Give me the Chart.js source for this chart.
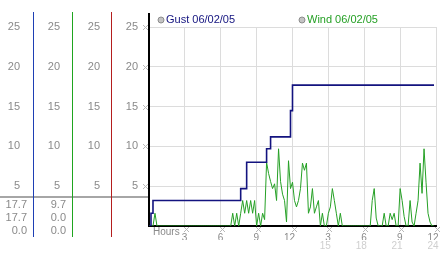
<!DOCTYPE html>
<html>
<head>
<meta charset="utf-8">
<script src="https://cdn.jsdelivr.net/npm/chart.js@4"></script>
<style>
  html, body { margin: 0; padding: 0; background: #fff; }
  #wrap { width: 442px; height: 253px; }
</style>
</head>
<body>
<div id="wrap"><canvas id="chart" width="442" height="253"></canvas></div>
<script>
// 10분 간격 샘플 (00:00 ~ 23:50)
const stepHours = 1 / 6;

// Gust 06/02/05
const gust = [
  0, 1.6, 3.2, 3.2, 3.2, 3.2, 3.2, 3.2, 3.2, 3.2, 3.2, 3.2,
  3.2, 3.2, 3.2, 3.2, 3.2, 3.2, 3.2, 3.2, 3.2, 3.2, 3.2, 3.2,
  3.2, 3.2, 3.2, 3.2, 3.2, 3.2, 3.2, 3.2, 3.2, 3.2, 3.2, 3.2,
  3.2, 3.2, 3.2, 3.2, 3.2, 3.2, 3.2, 3.2, 3.2, 3.2, 4.7, 4.7,
  4.7, 8.0, 8.0, 8.0, 8.0, 8.0, 8.0, 8.0, 8.0, 8.0, 8.0, 9.7,
  9.7, 11.2, 11.2, 11.2, 11.2, 11.2, 11.2, 11.2, 11.2, 11.2, 11.2, 14.5,
  17.7, 17.7, 17.7, 17.7, 17.7, 17.7, 17.7, 17.7, 17.7, 17.7, 17.7, 17.7,
  17.7, 17.7, 17.7, 17.7, 17.7, 17.7, 17.7, 17.7, 17.7, 17.7, 17.7, 17.7,
  17.7, 17.7, 17.7, 17.7, 17.7, 17.7, 17.7, 17.7, 17.7, 17.7, 17.7, 17.7,
  17.7, 17.7, 17.7, 17.7, 17.7, 17.7, 17.7, 17.7, 17.7, 17.7, 17.7, 17.7,
  17.7, 17.7, 17.7, 17.7, 17.7, 17.7, 17.7, 17.7, 17.7, 17.7, 17.7, 17.7,
  17.7, 17.7, 17.7, 17.7, 17.7, 17.7, 17.7, 17.7, 17.7, 17.7, 17.7, 17.7
];

// Wind 06/02/05
const wind = [
  0, 0, 0, 1.6, 0, 0, 0, 0, 0, 0, 0, 0,
  0, 0, 0, 0, 0, 0, 0, 0, 0, 0, 0, 0,
  0, 0, 0, 0, 0, 0, 0, 0, 0, 0, 0, 0,
  0, 0, 0, 0, 0, 0, 1.6, 0, 1.6, 0, 1.6, 3.2,
  1.6, 3.2, 1.6, 3.2, 1.6, 3.2, 0, 1.6, 0, 1.6, 0.8, 8.0,
  6.6, 5.6, 4.7, 5.3, 3.2, 9.7, 5.6, 4.0, 3.2, 0.5, 8.2, 4.7,
  5.5, 3.2, 2.4, 3.2, 4.7, 7.9, 7.0, 7.9, 1.6, 2.4, 4.7, 1.6,
  2.4, 3.2, 0, 1.6, 0, 0, 1.6, 2.4, 4.7, 3.2, 1.6, 0,
  1.6, 0, 0, 0, 0, 0, 0, 0, 0, 0, 0, 0,
  0, 0, 0, 0, 3.2, 4.7, 1.0, 0, 0, 0, 1.6, 0,
  0, 1.6, 0.8, 1.6, 0, 0, 4.7, 3.2, 1.2, 0, 0, 3.2,
  0.5, 0, 1.6, 3.2, 7.9, 4.1, 9.7, 5.5, 1.6, 0.5, 0, 0
];

const seriesNames = ['Gust 06/02/05', 'Wind 06/02/05'];
const valueTicks = [5, 10, 15, 20, 25];
const hourTicks = [0, 3, 6, 9, 12, 15, 18, 21, 24];
const topLabels = ['', '3', '6', '9', '12', '3', '6', '9', '12'];
const lowLabels = ['', '', '', '', '', '15', '18', '21', '24'];

const FONT = 'Liberation Sans, Arial, sans-serif';
const GUST_COLOR = '#13137f';
const WIND_COLOR = '#25a025';

function toPoints(values) {
  return values.map((v, i) => ({ x: i * stepHours, y: v }));
}

// 왼쪽에 나란히 놓이는 눈금 기둥
function sideAxis(weight, width, pad, border, grid) {
  return {
    type: 'linear',
    position: 'left',
    min: 0,
    max: 25,
    weight: weight,
    afterBuildTicks: s => { s.ticks = valueTicks.map(v => ({ value: v })); },
    afterFit: s => { s.width = width; },
    grid: grid ? { color: '#dcdcdc', drawTicks: false } : { display: false, drawTicks: false },
    border: border,
    ticks: { color: '#8a8a8a', padding: pad, font: { family: FONT, size: 11 } }
  };
}

const sideColors = { yB: '#1e3fb4', yG: '#1fa51f', yR: '#b41e1e' };

const decor = {
  id: 'decor',
  afterDraw(chart) {
    const ctx = chart.ctx;
    const a = chart.chartArea;
    const s = chart.scales;
    ctx.save();

    // 요약값 구분선
    ctx.fillStyle = '#a6a6a6';
    ctx.fillRect(0, a.bottom - 30, a.left - 1, 2);

    // 기둥 선
    Object.keys(sideColors).forEach(id => {
      ctx.fillStyle = sideColors[id];
      ctx.fillRect(Math.round(s[id].right), a.top - 15, 1, a.bottom - a.top + 26);
    });
    ctx.fillStyle = '#000';
    ctx.fillRect(Math.round(s.y.right) - 1, a.top - 14, 2, 14);

    // 요약값 (최대, 현재, 최소)
    ctx.font = '11px ' + FONT;
    ctx.fillStyle = '#8a8a8a';
    ctx.textAlign = 'right';
    ctx.textBaseline = 'middle';
    [[s.yB, gust], [s.yG, wind]].forEach(([sc, vals]) => {
      const rows = [Math.max(...vals), vals[vals.length - 1], Math.min(...vals)];
      rows.forEach((v, i) => {
        ctx.fillText(v.toFixed(1), sc.right - 6, a.bottom - 21 + i * 13);
      });
    });

    // 작은 눈금 표시
    ctx.fillStyle = '#b8b8b8';
    const mark = (cx, cy) => {
      [[-2, -2], [2, -2], [-1, -1], [1, -1], [0, 0], [-1, 1], [1, 1], [-2, 2], [2, 2]].forEach(([dx, dy]) => {
        ctx.fillRect(Math.round(cx) + dx, Math.round(cy) + dy, 1, 1);
      });
    };
    valueTicks.forEach(v => mark(a.left - 4, s.y.getPixelForValue(v)));
    hourTicks.slice(1).forEach(h => mark(s.x.getPixelForValue(h) + 1, a.bottom + 3));

    // Hours
    ctx.font = '10px ' + FONT;
    ctx.textAlign = 'left';
    ctx.fillStyle = '#8a8a8a';
    ctx.fillText('Hours', a.left + 4, a.bottom + 6);

    // 범례
    const items = [[a.left + 12, GUST_COLOR], [a.left + 153, WIND_COLOR]];
    ctx.font = '11px ' + FONT;
    items.forEach(([cx, color], i) => {
      ctx.beginPath();
      ctx.arc(cx, a.top - 7, 3, 0, Math.PI * 2);
      ctx.fillStyle = '#c4c4c4';
      ctx.fill();
      ctx.strokeStyle = '#8c8c8c';
      ctx.lineWidth = 1;
      ctx.stroke();
      ctx.fillStyle = color;
      ctx.fillText(seriesNames[i], cx + 5, a.top - 7);
    });
    ctx.restore();
  }
};

new Chart(document.getElementById('chart'), {
  type: 'line',
  data: {
    datasets: [
      {
        label: seriesNames[0],
        data: toPoints(gust),
        borderColor: GUST_COLOR,
        borderWidth: 1.6,
        stepped: true,
        pointRadius: 0,
        xAxisID: 'x',
        yAxisID: 'y'
      },
      {
        label: seriesNames[1],
        data: toPoints(wind),
        borderColor: WIND_COLOR,
        borderWidth: 1,
        pointRadius: 0,
        tension: 0,
        xAxisID: 'x',
        yAxisID: 'y'
      }
    ]
  },
  options: {
    responsive: false,
    animation: false,
    events: [],
    layout: { padding: { top: 27, right: 3, left: 0, bottom: 0 } },
    plugins: { legend: { display: false }, tooltip: { enabled: false } },
    scales: {
      yB: sideAxis(3, 33, 13, { display: false }, false),
      yG: sideAxis(2, 39, 12, { display: false }, false),
      yR: sideAxis(1, 39, 11, { display: false }, false),
      y: sideAxis(0, 38, 11, { display: true, color: '#000', width: 2 }, true),
      x: {
        type: 'linear',
        position: 'bottom',
        min: 0,
        max: 24,
        weight: 0,
        afterBuildTicks: s => { s.ticks = hourTicks.map(v => ({ value: v })); },
        afterFit: s => { s.height = 14; },
        grid: { color: '#dcdcdc', drawTicks: false },
        border: { display: true, color: '#000', width: 2 },
        ticks: {
          color: '#8a8a8a', padding: 6, align: 'end', labelOffset: 2.5,
          autoSkip: false, maxRotation: 0,
          font: { family: FONT, size: 10 },
          callback: (v, i) => topLabels[i]
        }
      },
      x2: {
        type: 'linear',
        position: 'bottom',
        min: 0,
        max: 24,
        weight: 1,
        afterBuildTicks: s => { s.ticks = hourTicks.map(v => ({ value: v })); },
        afterFit: s => { s.height = 13; },
        grid: { display: false, drawTicks: false },
        border: { display: false },
        ticks: {
          color: '#cfcfcf', padding: 0, align: 'end', labelOffset: 2.5,
          autoSkip: false, maxRotation: 0,
          font: { family: FONT, size: 10 },
          callback: (v, i) => lowLabels[i]
        }
      }
    }
  },
  plugins: [decor]
});
</script>
</body>
</html>
